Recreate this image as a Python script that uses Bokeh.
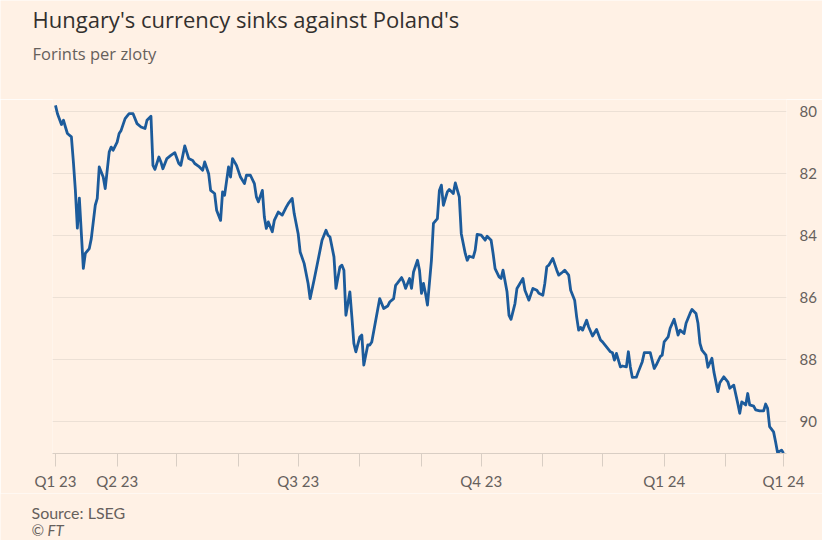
import pandas as pd
from bokeh.plotting import figure
from bokeh.layouts import column
from bokeh.models import Range1d, FixedTicker, Label, ColumnDataSource
from bokeh.embed import file_html
from bokeh.resources import INLINE

# ---- data ----
start_date = "2023-03-01"
# days since start_date
day_offsets = [0, 1, 3, 4, 5, 6, 8, 9, 10, 11,
               12, 14, 15, 17, 18, 20, 21, 22, 24, 25,
               27, 28, 29, 31, 32, 33, 35, 37, 39, 41,
               43, 45, 46, 48, 49, 50, 52, 53, 54, 56,
               58, 60, 62, 63, 65, 67, 69, 70, 72, 74,
               75, 77, 78, 80, 81, 83, 84, 85, 87, 88,
               89, 91, 93, 95, 96, 98, 100, 101, 102, 104,
               105, 106, 107, 109, 110, 112, 114, 116, 117, 119,
               120, 122, 123, 125, 127, 128, 130, 132, 134, 136,
               137, 138, 140, 141, 143, 144, 145, 146, 148, 149,
               150, 151, 153, 154, 155, 157, 158, 159, 161, 163,
               165, 167, 168, 170, 171, 172, 174, 175, 176, 178,
               179, 180, 182, 183, 184, 185, 186, 187, 189, 190,
               192, 193, 194, 195, 197, 198, 200, 201, 203, 204,
               206, 207, 208, 210, 211, 212, 214, 216, 217, 219,
               220, 221, 223, 224, 225, 227, 228, 229, 231, 232,
               235, 236, 238, 240, 242, 243, 245, 246, 247, 248,
               250, 252, 253, 255, 256, 258, 259, 261, 262, 263,
               264, 265, 267, 268, 270, 272, 274, 275, 277, 279,
               280, 281, 282, 284, 285, 287, 288, 289, 290, 292,
               293, 295, 296, 299, 301, 302, 304, 305, 306, 308,
               309, 311, 312, 313, 314, 316, 317, 319, 320, 322,
               323, 324, 325, 327, 328, 330, 331, 333, 334, 336,
               338, 339, 341, 343, 344, 345, 347, 348, 349, 351,
               352, 354, 356, 357, 358, 359, 361, 362, 363, 365,
               366]
forints_per_zloty = [79.79, 80.06, 80.41, 80.27, 80.49, 80.70, 80.81, 81.62, 82.54, 83.76,
                     82.79, 85.06, 84.58, 84.42, 84.10, 83.02, 82.80, 81.78, 82.11, 82.48,
                     81.30, 81.14, 81.24, 80.98, 80.70, 80.60, 80.22, 80.06, 80.06, 80.38,
                     80.49, 80.54, 80.27, 80.14, 81.73, 81.86, 81.46, 81.62, 81.84, 81.51,
                     81.41, 81.32, 81.67, 81.73, 81.10, 81.51, 81.57, 81.67, 81.76, 81.89,
                     81.62, 82.00, 82.54, 82.64, 83.18, 83.51, 82.59, 82.70, 81.78, 82.11,
                     81.51, 81.73, 82.11, 82.32, 82.05, 82.05, 82.32, 82.75, 82.91, 82.54,
                     83.40, 83.77, 83.56, 83.88, 83.51, 83.24, 83.34, 83.08, 82.97, 82.80,
                     83.29, 83.94, 84.53, 84.90, 85.55, 86.04, 85.44, 84.80, 84.15, 83.83,
                     83.99, 84.05, 84.69, 85.71, 85.01, 84.96, 85.12, 86.58, 85.82, 86.63,
                     87.49, 87.76, 87.28, 87.22, 88.19, 87.54, 87.54, 87.44, 86.74, 86.04,
                     86.36, 86.28, 86.15, 86.04, 85.61, 85.53, 85.36, 85.50, 85.71, 85.39,
                     85.71, 85.18, 84.80, 85.12, 85.87, 85.55, 85.87, 86.25, 84.80, 83.61,
                     83.45, 82.54, 82.37, 83.02, 82.59, 82.51, 82.64, 82.30, 82.75, 83.94,
                     84.58, 84.80, 84.67, 84.71, 84.47, 83.96, 83.99, 84.15, 84.02, 84.15,
                     84.58, 85.07, 85.34, 85.39, 85.12, 85.82, 86.58, 86.71, 86.20, 85.71,
                     85.39, 85.77, 86.09, 85.71, 85.77, 85.87, 85.93, 85.55, 85.01, 84.96,
                     84.74, 85.12, 85.28, 85.18, 85.12, 85.28, 85.77, 86.09, 86.63, 87.06,
                     86.97, 87.06, 86.74, 86.95, 87.25, 87.04, 87.38, 87.44, 87.60, 87.76,
                     87.79, 88.03, 87.81, 88.25, 88.22, 88.25, 87.76, 88.25, 88.59, 88.58,
                     88.41, 88.08, 87.79, 87.79, 88.30, 88.19, 87.92, 87.87, 87.44, 87.28,
                     87.00, 86.71, 86.95, 87.22, 87.06, 87.17, 86.84, 86.52, 86.39, 86.52,
                     86.84, 87.49, 87.71, 87.87, 88.26, 87.97, 88.41, 89.05, 88.76, 88.57,
                     88.73, 88.94, 88.84, 89.43, 89.75, 89.38, 89.48, 89.11, 89.48, 89.52,
                     89.64, 89.67, 89.67, 89.45, 89.59, 90.18, 90.35, 90.67, 91.02, 90.94,
                     91.04]

tick_dates = ["2023-03-01", "2023-04-01", "2023-05-01", "2023-06-01", "2023-07-01",
              "2023-08-01", "2023-09-01", "2023-10-01", "2023-11-01", "2023-12-01",
              "2024-01-01", "2024-02-01", "2024-03-01"]
tick_labels = ["Q1 23", "Q2 23", "", "", "Q3 23", "", "", "Q4 23", "", "", "Q1 24", "", "Q1 24"]
y_ticks = [80, 82, 84, 86, 88, 90]

title_text = "Hungary's currency sinks against Poland's"
subtitle_text = "Forints per zloty"
source_text = "Source: LSEG"
credit_text = "© FT"

# ---- styling ----
BG = "#fff1e5"
LINE = "#1c5b9b"
GREY = "#66605c"
TITLE_FONT = "Open Sans"
FONT = "Lato"
W = 822
HEAD_H, MAIN_H, FOOT_H = 99, 394, 47


def text_panel(height):
    f = figure(width=W, height=height, x_range=Range1d(0, W), y_range=Range1d(0, height),
               x_axis_location=None, y_axis_location=None,
               min_border=0, min_border_left=0, min_border_right=0,
               min_border_top=0, min_border_bottom=0, frame_align=False,
               output_backend="svg", toolbar_location=None)
    f.grid.grid_line_color = None
    f.outline_line_color = None
    f.background_fill_color = BG
    f.border_fill_color = BG
    return f


# header
head = text_panel(HEAD_H)
head.add_layout(Label(x=32, y=HEAD_H - 18, text=title_text, text_font=TITLE_FONT,
                      text_font_size="22px", text_color="#33302e",
                      text_baseline="middle", text_align="left"))
head.add_layout(Label(x=32, y=HEAD_H - 53, text=subtitle_text, text_font=TITLE_FONT,
                      text_font_size="16.5px", text_color=GREY,
                      text_baseline="middle", text_align="left"))

# main chart
dates = pd.Timestamp(start_date) + pd.to_timedelta(day_offsets, unit="D")
src = ColumnDataSource(dict(date=dates, value=forints_per_zloty))
tick_ms = [int(pd.Timestamp(d).value // 10**6) for d in tick_dates]
day_ms = 86400000

p = figure(width=W, height=MAIN_H, x_axis_type="datetime", y_axis_location="right",
           output_backend="svg", toolbar_location=None, frame_align=False,
           x_range=Range1d(tick_ms[0] - 1.5 * day_ms, tick_ms[-1] + 1.5 * day_ms),
           y_range=Range1d(91.05, 79.6),
           min_border_left=52, min_border_right=36, min_border_top=0, min_border_bottom=40)
p.background_fill_color = BG
p.border_fill_color = BG
p.outline_line_color = None

p.line("date", "value", source=src, line_color=LINE, line_width=2.8, line_join="round")

xa = p.xaxis[0]
xa.ticker = FixedTicker(ticks=tick_ms, minor_ticks=[])
xa.major_label_overrides = {float(t): lab for t, lab in zip(tick_ms, tick_labels)}
xa.axis_line_color = "#d9cec4"
xa.axis_line_width = 1
xa.major_tick_line_color = "#d9cec4"
xa.major_tick_in = 0
xa.major_tick_out = 13
xa.minor_tick_line_color = None
xa.major_label_standoff = 5
xa.major_label_text_font = FONT
xa.major_label_text_font_size = "15px"
xa.major_label_text_color = GREY
p.xgrid.grid_line_color = None

ya = p.yaxis[0]
ya.ticker = FixedTicker(ticks=y_ticks, minor_ticks=[])
ya.axis_line_color = None
ya.major_tick_line_color = None
ya.minor_tick_line_color = None
ya.major_label_standoff = 7
ya.major_label_text_font = FONT
ya.major_label_text_font_size = "15px"
ya.major_label_text_color = GREY
p.ygrid.grid_line_color = "#ece0d5"
p.ygrid.grid_line_width = 1

# footer
foot = text_panel(FOOT_H)
foot.add_layout(Label(x=31, y=FOOT_H - 19, text=source_text, text_font=FONT,
                      text_font_size="16px", text_color=GREY,
                      text_baseline="middle", text_align="left"))
foot.add_layout(Label(x=31, y=FOOT_H - 36, text=credit_text, text_font=FONT,
                      text_font_size="15px", text_color=GREY, text_font_style="italic",
                      text_baseline="middle", text_align="left"))

layout = column(head, p, foot, spacing=0)
open("out.html", "w").write(file_html(layout, INLINE))
